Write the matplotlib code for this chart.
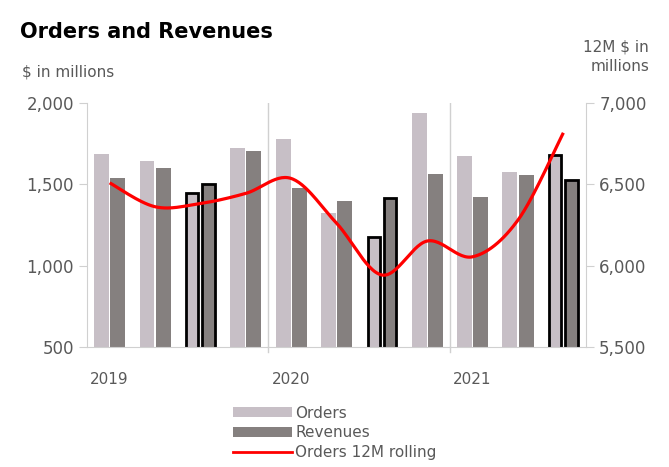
import numpy as np
import matplotlib.pyplot as plt
from matplotlib.patches import Patch
from matplotlib.lines import Line2D

quarters = ["Q1 2019", "Q2 2019", "Q3 2019", "Q4 2019",
            "Q1 2020", "Q2 2020", "Q3 2020", "Q4 2020",
            "Q1 2021", "Q2 2021", "Q3 2021"]
orders = [1686, 1643, 1449, 1722, 1777, 1322, 1178, 1939, 1674, 1576, 1682]
revenues = [1539, 1600, 1500, 1703, 1476, 1398, 1418, 1564, 1420, 1557, 1525]
rolling = [6510, 6363, 6383, 6445, 6537, 6262, 5943, 6152, 6055, 6281, 6818]
outlined = [2, 6, 10]  # quarters drawn with black border
year_labels = ["2019", "2020", "2021"]
year_pos = [0, 4, 8]

c_orders = "#c7bfc6"
c_rev = "#85807f"
grey = "#595959"
axc = "#d0d0d0"


def smooth(x, y, n=30):
    # Excel style smoothed line: cubic bezier through the points
    x = np.asarray(x, float)
    y = np.asarray(y, float)
    px = np.concatenate(([x[0]], x, [x[-1]]))
    py = np.concatenate(([y[0]], y, [y[-1]]))
    xs, ys = [], []
    t = np.linspace(0, 1, n)
    for i in range(1, len(px) - 2):
        p0 = np.array([px[i], py[i]])
        p3 = np.array([px[i + 1], py[i + 1]])
        p1 = p0 + (p3 - np.array([px[i - 1], py[i - 1]])) / 6
        p2 = p3 - (np.array([px[i + 2], py[i + 2]]) - p0) / 6
        b = (np.outer((1 - t) ** 3, p0) + np.outer(3 * (1 - t) ** 2 * t, p1)
             + np.outer(3 * (1 - t) * t ** 2, p2) + np.outer(t ** 3, p3))
        xs.extend(b[:, 0])
        ys.extend(b[:, 1])
    return xs, ys


fig = plt.figure(figsize=(6.69, 4.67), dpi=100)
ax = fig.add_axes([0.130, 0.257, 0.746, 0.522])

x = np.arange(len(quarters))
off = 0.177
for i in x:
    if i in outlined:
        ax.bar(i - off, orders[i], 0.27, bottom=0, color=c_orders,
               edgecolor="black", linewidth=2, zorder=2)
        ax.bar(i + off, revenues[i], 0.28, color=c_rev,
               edgecolor="black", linewidth=2, zorder=2)
    else:
        ax.bar(i - off, orders[i], 0.33, color=c_orders, zorder=2)
        ax.bar(i + off, revenues[i], 0.33, color=c_rev, zorder=2)

ax.set_xlim(-0.5, 10.5)
ax.set_ylim(500, 2000)
ax.set_yticks([500, 1000, 1500, 2000])
ax.set_yticklabels(["500", "1,000", "1,500", "2,000"])
ax.set_xticks(year_pos)
ax.set_xticklabels(year_labels)
ax.tick_params(axis="x", length=0, pad=18, labelsize=11, labelcolor=grey)
ax.tick_params(axis="y", length=6, color=axc, labelsize=12, labelcolor=grey)
for b in [3.5, 7.5]:
    ax.axvline(b, color=axc, lw=1, ymin=0, ymax=1, zorder=1)
    ax.plot([b, b], [500, 470], color=axc, lw=1, clip_on=False)
for s in ["top", "right"]:
    ax.spines[s].set_visible(False)
ax.spines["left"].set_color(axc)
ax.spines["bottom"].set_color(axc)

ax2 = ax.twinx()
ax2.set_ylim(5500, 7000)
ax2.set_yticks([5500, 6000, 6500, 7000])
ax2.set_yticklabels(["5,500", "6,000", "6,500", "7,000"])
ax2.tick_params(axis="y", length=6, color=axc, labelsize=12, labelcolor=grey)
for s in ["top", "left", "bottom"]:
    ax2.spines[s].set_visible(False)
ax2.spines["right"].set_color(axc)
sx, sy = smooth(x, rolling)
ax2.plot(sx, sy, color="#ff0000", lw=2.3, solid_capstyle="butt", zorder=3)

fig.text(20 / 669, 1 - 32 / 467, "Orders and Revenues", fontsize=15,
         fontweight="bold", va="center", ha="left", color="black")
fig.text(22 / 669, 1 - 72 / 467, "$ in millions", fontsize=11,
         va="center", ha="left", color=grey)
fig.text(649 / 669, 1 - 57 / 467, "12M $ in\nmillions", fontsize=11,
         va="center", ha="right", color=grey, multialignment="right",
         linespacing=1.35)

handles = [Patch(facecolor=c_orders), Patch(facecolor=c_rev),
           Line2D([], [], color="#ff0000", lw=2)]
fig.legend(handles, ["Orders", "Revenues", "Orders 12M rolling"],
           loc="upper left", bbox_to_anchor=(225 / 669, 1 - 398 / 467),
           frameon=False, fontsize=11, labelcolor=grey, borderpad=0,
           handlelength=3.9, handleheight=0.6, handletextpad=0.2,
           labelspacing=0.3)

fig.savefig("out.png", dpi=100)
